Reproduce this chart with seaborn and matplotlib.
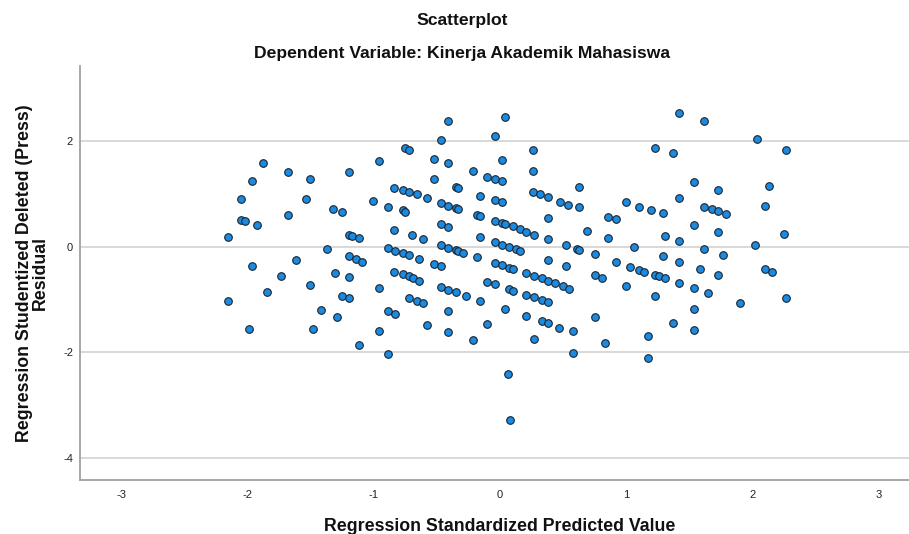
import matplotlib
matplotlib.use("Agg")
import matplotlib.pyplot as plt
import seaborn as sns
import pandas as pd

sns.set_theme(style="white")
plt.rcParams["font.family"] = ["Liberation Sans", "DejaVu Sans"]
plt.rcParams["axes.unicode_minus"] = False

# Regression Standardized Predicted Value
pred = [
    -1.88, -1.68, -1.51, -1.20, -0.96, -1.97, -2.05, -1.54, -1.01, -1.32,
    -1.25, -1.68, -2.05, -2.02, -1.93, -2.16, -1.20, -1.17, -1.12, -1.37,
    -1.20, -1.14, -1.09, -1.62, -1.97, -1.74, -1.31, -1.20, -1.51, -0.96,
    -1.85, -2.16, -1.25, -1.20, -1.42, -1.29, -1.99, -1.48, -0.96, -1.12,
    -0.41, 0.04, -0.47, -0.04, -0.75, -0.72, -0.52, -0.41, 0.02, -0.21,
    -0.10, -0.04, 0.02, -0.52, -0.84, -0.77, -0.72, -0.66, -0.58, -0.35,
    -0.33, -0.16, -0.04, 0.02, -0.47, -0.41, -0.35, -0.33, -0.89, -0.77,
    -0.75, -0.18, -0.16, -0.04, 0.02, -0.47, -0.41, -0.84, -0.70, -0.61,
    -0.16, -0.04, 0.02, -0.89, -0.83, -0.77, -0.72, -0.64, -0.47, -0.41,
    -0.35, -0.33, -0.29, -0.18, -0.52, -0.47, -0.04, 0.02, -0.84, -0.77,
    -0.72, -0.69, -0.64, -0.10, -0.04, -0.47, -0.41, -0.35, -0.27, -0.72,
    -0.66, -0.61, -0.16, 0.04, -0.89, -0.83, -0.41, -0.58, -0.10, -0.41,
    -0.21, -0.89, 0.06, 0.08,
    0.26, 0.26, 0.63, 0.26, 0.32, 0.38, 0.48, 0.54, 0.63, 1.00,
    1.10, 0.38, 0.86, 0.92, 0.04, 0.10, 0.16, 0.21, 0.27, 0.69,
    0.38, 0.86, 0.07, 0.13, 0.16, 0.52, 0.61, 0.63, 0.75, 1.06,
    0.38, 0.92, 0.07, 0.10, 0.52, 1.03, 1.10, 0.21, 0.27, 0.33,
    0.38, 0.44, 0.50, 0.55, 0.75, 0.81, 1.00, 0.07, 0.10, 0.21,
    0.27, 0.33, 0.38, 0.21, 0.33, 0.38, 0.47, 0.58, 0.75, 0.27,
    0.83, 0.58,
    1.42, 1.62, 2.04, 1.23, 1.37, 1.54, 1.73, 2.13, 1.42, 1.20,
    1.29, 1.62, 1.68, 1.73, 1.79, 2.10, 1.54, 1.73, 1.31, 1.42,
    1.62, 2.02, 1.29, 1.77, 1.42, 1.59, 1.73, 2.10, 2.16, 1.14,
    1.23, 1.26, 1.31, 1.42, 1.54, 1.65, 1.23, 1.54, 1.90, 1.37,
    1.54, 1.17, 1.17,
    2.27, 2.25, 2.27,
]

# Regression Studentized Deleted (Press) Residual
resid = [
    1.58, 1.41, 1.28, 1.42, 1.62, 1.25, 0.90, 0.90, 0.86, 0.71,
    0.66, 0.60, 0.51, 0.49, 0.41, 0.19, 0.22, 0.20, 0.16, -0.04,
    -0.18, -0.23, -0.28, -0.25, -0.37, -0.55, -0.49, -0.58, -0.73, -0.79,
    -0.86, -1.02, -0.93, -0.98, -1.20, -1.33, -1.56, -1.56, -1.59, -1.86,
    2.39, 2.45, 2.03, 2.10, 1.87, 1.83, 1.67, 1.58, 1.64, 1.43,
    1.33, 1.29, 1.24, 1.28, 1.12, 1.07, 1.04, 0.99, 0.92, 1.14,
    1.11, 0.97, 0.89, 0.84, 0.83, 0.78, 0.73, 0.72, 0.76, 0.69,
    0.65, 0.61, 0.58, 0.49, 0.45, 0.43, 0.38, 0.32, 0.22, 0.15,
    0.18, 0.09, 0.04, -0.03, -0.08, -0.12, -0.16, -0.23, 0.03, -0.02,
    -0.06, -0.08, -0.11, -0.20, -0.32, -0.37, -0.31, -0.35, -0.47, -0.52,
    -0.55, -0.59, -0.64, -0.66, -0.71, -0.76, -0.81, -0.86, -0.93, -0.97,
    -1.02, -1.06, -1.02, -1.18, -1.22, -1.27, -1.21, -1.48, -1.46, -1.62,
    -1.77, -2.04, -2.42, -3.28,
    1.84, 1.44, 1.14, 1.04, 1.00, 0.95, 0.84, 0.79, 0.75, 0.85,
    0.76, 0.55, 0.56, 0.52, 0.43, 0.39, 0.34, 0.28, 0.23, 0.30,
    0.15, 0.16, 0.00, -0.05, -0.08, 0.04, -0.04, -0.06, -0.14, 0.00,
    -0.25, -0.28, -0.40, -0.43, -0.36, -0.38, -0.44, -0.50, -0.55, -0.60,
    -0.65, -0.69, -0.74, -0.80, -0.54, -0.59, -0.74, -0.80, -0.83, -0.91,
    -0.95, -1.00, -1.05, -1.31, -1.40, -1.45, -1.53, -1.60, -1.34, -1.75,
    -1.82, -2.01,
    2.53, 2.39, 2.04, 1.88, 1.77, 1.23, 1.07, 1.16, 0.92, 0.70,
    0.63, 0.76, 0.71, 0.67, 0.62, 0.77, 0.42, 0.27, 0.20, 0.11,
    -0.04, 0.04, -0.18, -0.16, -0.29, -0.43, -0.54, -0.43, -0.48, -0.47,
    -0.53, -0.55, -0.60, -0.69, -0.79, -0.87, -0.93, -1.18, -1.07, -1.45,
    -1.58, -1.69, -2.10,
    1.84, 0.25, -0.98,
]

x_ticks = [-3, -2, -1, 0, 1, 2, 3]
y_ticks = [-4, -2, 0, 2]

df = pd.DataFrame({"pred": pred, "resid": resid})

fig = plt.figure(figsize=(9.09, 5.34), dpi=100)
ax = fig.add_axes([0.088, 0.101, 0.924, 0.775])

sns.scatterplot(data=df, x="pred", y="resid", ax=ax, s=30,
                color="#1a8be0", edgecolor="#1b2430", linewidth=0.8, zorder=3)

ax.set_xlim(-3.33, 3.33)
ax.set_ylim(-4.42, 3.42)
ax.set_xticks(x_ticks)
ax.set_yticks(y_ticks)
ax.tick_params(axis="both", length=0, labelsize=8, colors="#222222")
ax.tick_params(axis="x", pad=7)
ax.tick_params(axis="y", pad=5)

ax.yaxis.grid(True, color="#d2d2d2", linewidth=1.2)
ax.xaxis.grid(False)
ax.set_axisbelow(True)

for side in ["top", "right"]:
    ax.spines[side].set_visible(False)
for side in ["left", "bottom"]:
    ax.spines[side].set_color("#a0a0a0")
    ax.spines[side].set_linewidth(1.3)

ax.set_xlabel("Regression Standardized Predicted Value", fontsize=12.8,
              fontweight="bold", labelpad=13, color="#111111")
ax.set_ylabel("Regression Studentized Deleted (Press)\nResidual", fontsize=12.8,
              fontweight="bold", labelpad=10, color="#111111", linespacing=0.95)

fig.text(0.508, 0.961, "Scatterplot", ha="center", va="center",
         fontsize=12.6, fontweight="bold", color="#111111")
fig.text(0.508, 0.900, "Dependent Variable: Kinerja Akademik Mahasiswa",
         ha="center", va="center", fontsize=12.6, fontweight="bold", color="#111111")

fig.savefig("out.png", dpi=100)
